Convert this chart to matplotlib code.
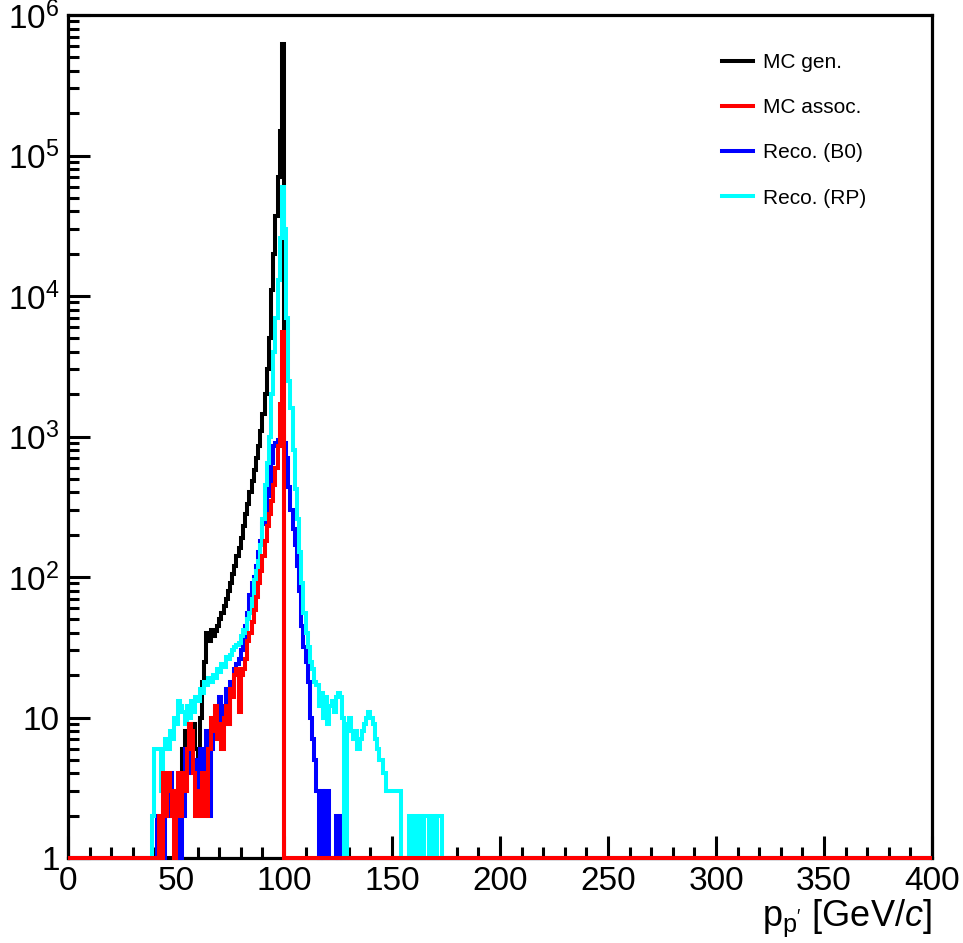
import numpy as np
import matplotlib
matplotlib.use("Agg")
import matplotlib.pyplot as plt
from matplotlib.lines import Line2D
from matplotlib.ticker import MultipleLocator, FixedLocator, FixedFormatter, NullFormatter

plt.rcParams['font.family'] = ['Liberation Sans', 'DejaVu Sans']
plt.rcParams['mathtext.fontset'] = 'custom'
plt.rcParams['mathtext.rm'] = 'Liberation Sans'
plt.rcParams['mathtext.it'] = 'Liberation Sans:italic'

# 1 GeV bins from 0 to 400
edges = np.arange(0, 401, 1)

# counts per bin; first bin index given by *_start
gen_start = 52
gen_counts = [4, 6, 8, 5, 9, 7, 9, 6, 5, 10, 18, 25, 40, 35, 42,
              38, 41, 45, 50, 55, 62, 70, 80, 90, 105, 120, 140, 160, 190,
              230, 280, 330, 400, 480, 580, 700, 850, 1100, 1450, 2000,
              3000, 5000, 1.1e4, 2e4, 3.7e4, 7e4, 1.5e5, 6.2e5]

assoc_start = 42
assoc_counts = [2, 0, 4, 2, 4, 3, 2, 0, 3, 4, 2, 4, 3, 6, 9, 8, 4, 2,
                3, 2, 4, 3, 2, 6, 10, 8, 12, 7, 9, 6, 10, 12, 9, 16, 14,
                20, 22, 11, 20, 22, 26, 35, 40, 48, 58, 72, 90, 110, 140,
                180, 230, 280, 350, 450, 600, 850, 1700, 5500]

b0_start = 40
b0_counts = [0, 2, 2, 2, 0, 3, 2, 4, 3, 2, 2, 3, 0, 2, 6, 4, 7, 5, 4,
             5, 3, 6, 4, 3, 8, 2, 6, 9, 11, 10, 14, 8, 12, 16, 9, 18,
             17, 22, 24, 26, 30, 36, 45, 55, 75, 90, 100, 120, 150, 180,
             240, 300, 380, 450, 650, 850, 900, 950, 1000, 1000, 900,
             700, 440, 300, 220, 170, 120, 80, 45, 32, 25, 18, 10, 7, 5,
             3, 0, 3, 0, 3, 3, 0, 0, 0, 2, 0, 2, 0]

rp_start = 39
rp_counts = [2, 6, 6, 6, 3, 6, 7, 6, 8, 7, 10, 9, 13, 12, 11, 9, 12,
             10, 13, 11, 14, 13, 16, 15, 18, 17, 19, 18, 20, 19, 22, 21,
             24, 23, 27, 26, 28, 30, 32, 33, 34, 38, 42, 40, 50, 55, 70,
             95, 110, 130, 170, 260, 450, 650, 1000, 2000, 4000, 7000,
             1.3e4, 2.6e4, 6e4, 3e4, 7e3, 2.5e3, 1.6e3, 800, 420, 260, 150,
             90, 55, 40, 32, 25, 22, 18, 17, 12, 15, 10, 14, 9, 12, 13,
             11, 14, 15, 14, 10, 0, 9, 10, 8, 7, 8, 6, 7, 8, 9, 10, 11,
             10, 9, 7, 6, 5, 5, 4, 3, 3, 3, 3, 3, 3, 3, 0, 0, 0, 0, 2, 0,
             2, 2, 0, 2, 0, 2, 2, 0, 0, 2, 0, 2, 2]

labels = ["MC gen.", "MC assoc.", "Reco. (B0)", "Reco. (RP)"]
colors = ["#000000", "#ff0000", "#0000ff", "#00ffff"]


def fill(start, counts):
    h = np.zeros(len(edges) - 1)
    h[start:start + len(counts)] = counts
    # empty bins lie on the floor of the log axis, as ROOT draws them
    return np.where(h > 0, h, 1.0)


hists = [fill(gen_start, gen_counts), fill(assoc_start, assoc_counts),
         fill(b0_start, b0_counts), fill(rp_start, rp_counts)]

fig = plt.figure(figsize=(9.63, 9.43), dpi=100)
ax = fig.add_axes([68 / 963, 1 - 858 / 943, 864 / 963, 843 / 943])

lw = 2.9
# drawing order: gen, B0, RP, assoc on top
for z, i in enumerate([0, 2, 3, 1]):
    ax.stairs(hists[i], edges, color=colors[i], lw=lw, baseline=None,
              clip_on=False, zorder=3 + z)

ax.set_yscale('log')
ax.set_xlim(0, 400)
ax.set_ylim(1, 1e6)

ax.xaxis.set_major_locator(MultipleLocator(50))
ax.xaxis.set_minor_locator(MultipleLocator(10))
ax.yaxis.set_major_locator(FixedLocator([1, 10, 1e2, 1e3, 1e4, 1e5, 1e6]))
ax.yaxis.set_major_formatter(FixedFormatter(
    ["1", "10", "$10^{2}$", "$10^{3}$", "$10^{4}$", "$10^{5}$", "$10^{6}$"]))
minors = [m * 10.0 ** d for d in range(6) for m in range(2, 10)]
ax.yaxis.set_minor_locator(FixedLocator(minors))
ax.yaxis.set_minor_formatter(NullFormatter())

ax.tick_params(which='both', direction='in', top=False, right=False,
               width=2.2, labelsize=24)
ax.tick_params(which='major', length=16)
ax.tick_params(which='minor', length=8)
ax.tick_params(axis='x', pad=6)
ax.tick_params(axis='y', pad=6)

for sp in ax.spines.values():
    sp.set_linewidth(2.3)
    sp.set_zorder(2)

ax.set_xlabel(r"p$_{\mathrm{p}^{\prime}}$ [GeV/$\mathit{c}$]", fontsize=26,
              ha='right')
ax.xaxis.set_label_coords(1.0, -0.047)

handles = [Line2D([], [], color=c, lw=lw) for c in colors]
ax.legend(handles, labels, loc='upper left', bbox_to_anchor=(0.757, 0.955),
          frameon=False, fontsize=15, handlelength=1.5, handletextpad=0.45,
          labelspacing=1.26, borderpad=0, borderaxespad=0)

fig.savefig("out.png", dpi=100)
